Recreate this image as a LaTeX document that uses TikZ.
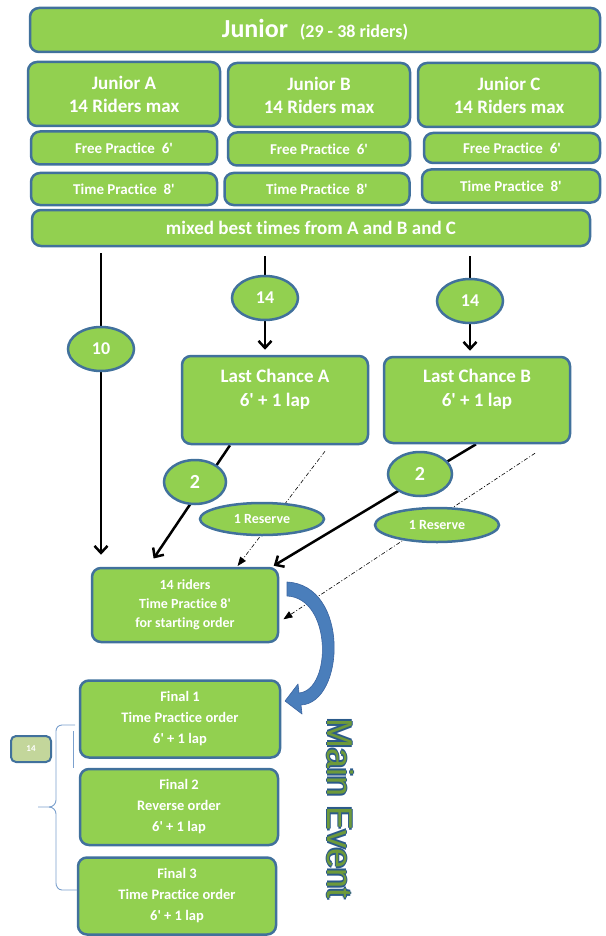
\documentclass[tikz,border=0pt]{standalone}
\usepackage{fontspec}
\setmainfont{Carlito}[Ligatures={NoCommon}]
\setsansfont{Liberation Sans}
\usetikzlibrary{arrows.meta,shapes.geometric,calc,backgrounds}
\definecolor{gfill}{HTML}{92D050}
\definecolor{bline}{HTML}{41719C}
\definecolor{lgfill}{HTML}{C3D69B}
\definecolor{arrblue}{HTML}{4A7EBB}
\definecolor{arredge}{HTML}{3A64A0}
\definecolor{bracecol}{HTML}{7BA0CD}
\definecolor{megreen}{HTML}{6E9A3A}
\definecolor{meblue}{HTML}{2B5A8A}
\begin{document}
\begin{tikzpicture}[x=1pt,y=-1pt,
  box/.style={draw=bline, line width=2.5pt, fill=gfill, rounded corners=9pt, text=white, align=center, inner sep=0pt},
  oval/.style={ellipse, draw=bline, line width=2.5pt, fill=gfill, text=white, inner sep=0pt},
  flow/.style={line width=2.5pt, black},
  flowarr/.style={flow, -{Straight Barb[length=7pt,width=13pt]}},
  dd/.style={line width=0.6pt, dash pattern=on 4pt off 2pt on 1pt off 2pt, -{Triangle[length=9pt,width=7pt]}},
  metext/.style={rotate=-90, font=\sffamily\fontsize{36}{40}\selectfont, inner sep=0pt}
]
\useasboundingbox (0,0) rectangle (605,936);

% top rows
\node[box, minimum width=570pt, minimum height=44pt] (top) at (315,30)
  {\bfseries\fontsize{26}{30}\selectfont Junior\ \ \fontsize{18}{22}\selectfont(29 - 38 riders)};
\node[box, minimum width=192pt, minimum height=64pt, font=\bfseries\fontsize{19}{23}\selectfont] (jA) at (124,94) {Junior A\\14 Riders max};
\node[box, minimum width=182pt, minimum height=64pt, font=\bfseries\fontsize{19}{23}\selectfont] (jB) at (319,95) {Junior B\\14 Riders max};
\node[box, minimum width=182pt, minimum height=64pt, font=\bfseries\fontsize{19}{23}\selectfont] (jC) at (509,95) {Junior C\\14 Riders max};
\node[box, minimum width=186pt, minimum height=33pt, font=\bfseries\fontsize{15}{18}\selectfont] (fA) at (124,148) {Free Practice\ \ 6\textquotesingle};
\node[box, minimum width=182pt, minimum height=33pt, font=\bfseries\fontsize{15}{18}\selectfont] (fB) at (319,149) {Free Practice\ \ 6\textquotesingle};
\node[box, minimum width=176pt, minimum height=30pt, font=\bfseries\fontsize{15}{18}\selectfont] (fC) at (512,148) {Free Practice\ \ 6\textquotesingle};
\node[box, minimum width=186pt, minimum height=32pt, font=\bfseries\fontsize{15}{18}\selectfont] (tA) at (124,189) {Time Practice\ \ 8\textquotesingle};
\node[box, minimum width=185pt, minimum height=32pt, font=\bfseries\fontsize{15}{18}\selectfont] (tB) at (317,189) {Time Practice\ \ 8\textquotesingle};
\node[box, minimum width=178pt, minimum height=33pt, font=\bfseries\fontsize{15}{18}\selectfont] (tC) at (511,186) {Time Practice\ \ 8\textquotesingle};
\node[box, minimum width=558pt, minimum height=36pt, font=\bfseries\fontsize{19}{23}\selectfont] (mixed) at (311,228) {mixed best times from A and B and C};

% ovals
\node[oval, minimum width=66pt, minimum height=44pt, font=\bfseries\fontsize{18}{22}\selectfont] (e10) at (101,349) {10};
\node[oval, minimum width=66pt, minimum height=44pt, font=\bfseries\fontsize{18}{22}\selectfont] (e14a) at (265,298) {14};
\node[oval, minimum width=66pt, minimum height=44pt, font=\bfseries\fontsize{18}{22}\selectfont] (e14b) at (470,301) {14};

% last chance
\node[box, minimum width=186pt, minimum height=88pt, font=\bfseries\fontsize{19}{24}\selectfont] (lcA) at (275,400) {Last Chance A\\6\textquotesingle{} + 1 lap\\\mbox{}};
\node[box, minimum width=186pt, minimum height=86pt, font=\bfseries\fontsize{19}{24}\selectfont] (lcB) at (477,400) {Last Chance B\\6\textquotesingle{} + 1 lap\\\mbox{}};

\node[oval, minimum width=62pt, minimum height=44pt, font=\bfseries\fontsize{20}{24}\selectfont] (e2a) at (195,482) {2};
\node[oval, minimum width=64pt, minimum height=44pt, font=\bfseries\fontsize{20}{24}\selectfont] (e2b) at (420,474) {2};
\node[oval, minimum width=124pt, minimum height=32pt, font=\bfseries\fontsize{14}{17}\selectfont] (r1a) at (262,519) {1 Reserve};
\node[oval, minimum width=124pt, minimum height=34pt, font=\bfseries\fontsize{14}{17}\selectfont] (r1b) at (437,525) {1 Reserve};

% lower boxes
\node[box, minimum width=186pt, minimum height=74pt, font=\bfseries\fontsize{14}{19}\selectfont] (riders) at (185,605) {14 riders\\Time Practice 8\textquotesingle\\for starting order};
\node[box, minimum width=200pt, minimum height=77pt, font=\bfseries\fontsize{14.5}{21}\selectfont] (f1) at (180,719) {Final 1\\Time Practice order\\6\textquotesingle{} + 1 lap};
\node[box, minimum width=198pt, minimum height=76pt, font=\bfseries\fontsize{14.5}{21}\selectfont] (f2) at (179,807) {Final 2\\Reverse order\\6\textquotesingle{} + 1 lap};
\node[box, minimum width=198pt, minimum height=77pt, font=\bfseries\fontsize{14.5}{21}\selectfont] (f3) at (177,896) {Final 3\\Time Practice order\\6\textquotesingle{} + 1 lap};

\node[box, fill=lgfill, line width=2pt, rounded corners=5pt, minimum width=40pt, minimum height=26pt, font=\bfseries\fontsize{9}{11}\selectfont] (s14) at (31,749) {14};

% connectors
\begin{pgfonlayer}{background}
\draw[flowarr, shorten <=6pt, shorten >=12pt] (mixed.south -| e10) -- (riders.north -| e10);
\draw[flow, shorten <=9pt] (mixed.south -| e14a) -- (e14a.north);
\draw[flowarr, shorten >=5pt] (e14a.south) -- (lcA.north -| e14a);
\draw[flow, shorten <=9pt] (mixed.south -| e14b) -- (e14b.north);
\draw[flowarr, shorten >=5pt] (e14b.south) -- (lcB.north -| e14b);
\draw[flowarr, shorten >=10pt] ($(lcA.south)+(-45,0)$) -- ($(riders.north)+(-37,0)$);
\draw[flowarr, shorten >=2pt] ($(lcB.south)+(-1,0)$) -- ($(riders.north)+(87,0)$);
\draw[dd, shorten >=1pt] ($(lcA.south)+(50,6)$) -- ($(riders.north)+(52,0)$);
\draw[dd, shorten >=5pt] ($(lcB.south)+(58,9)$) -- ($(riders.east)+(0,17)$);
\end{pgfonlayer}

% curved block arrow
\filldraw[fill=arrblue, draw=arredge, line width=0.6pt, line join=round]
  (287,582) .. controls (350,585) and (345,703) .. (301,705)
  -- (302,714) -- (285,701) -- (298,684) -- (299,693)
  .. controls (332,690) and (332,598) .. (287,596) -- cycle;

% brace
\draw[bracecol, line width=0.9pt] (75,725) -- (62,725) to[out=180,in=90] (56,731) -- (56,800)
  to[out=-90,in=0] (49,807) -- (38,807);
\draw[bracecol, line width=0.9pt] (49,807) to[out=0,in=90] (56,814) -- (56,883)
  to[out=-90,in=180] (62,890) -- (77,890);
\draw[bracecol, line width=0.9pt] (73,731) -- (73,768);

% Main Event
\node[metext, text=meblue] (meA) at (341,809) {Main Event};
\node[metext, text=meblue] (meB) at (339,809) {Main Event};
\node[metext, text=meblue] (meC) at (340,811) {Main Event};
\node[metext, text=meblue] (meD) at (340,807) {Main Event};
\node[metext, text=megreen] (me) at (340,809) {Main Event};
\end{tikzpicture}
\end{document}
